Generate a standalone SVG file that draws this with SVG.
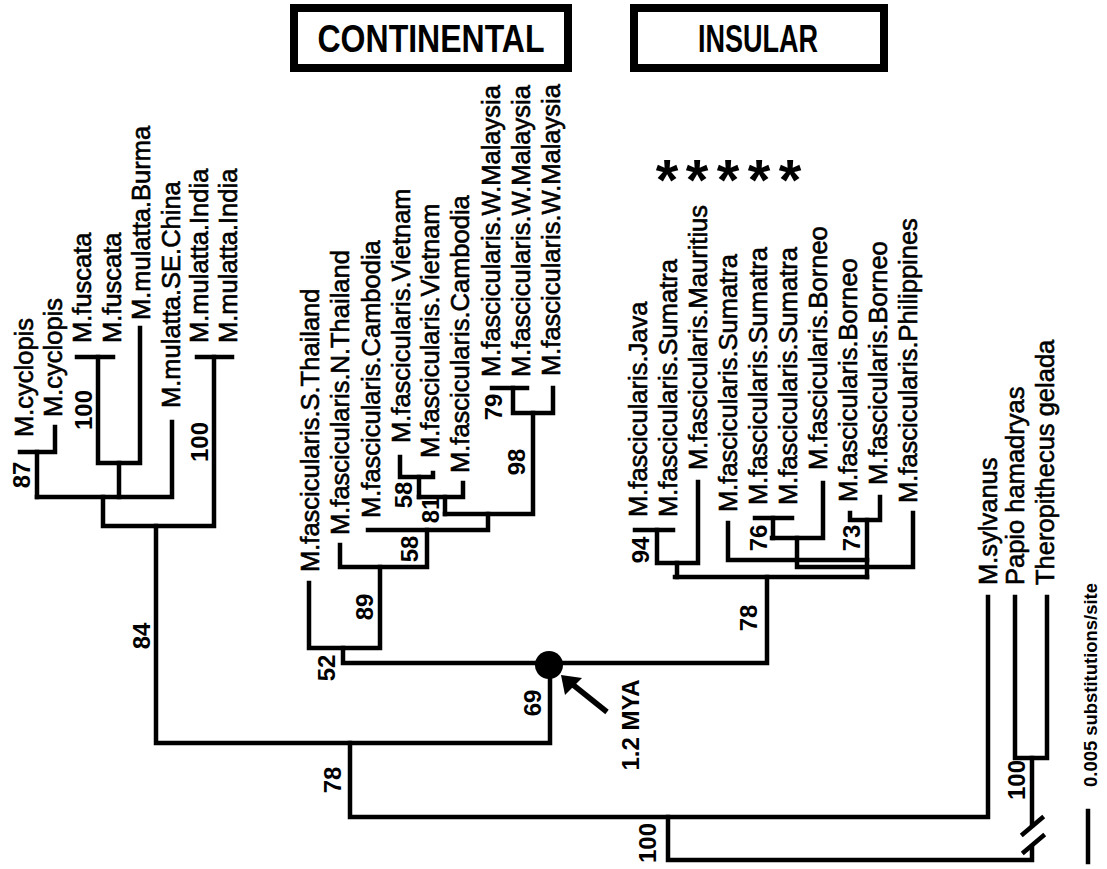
<svg xmlns="http://www.w3.org/2000/svg" width="1107" height="869" viewBox="0 0 1107 869">
<style>
.ln{fill:none;stroke:#000;stroke-width:4.5;stroke-linecap:square;stroke-linejoin:miter}
.tip{font-family:"Liberation Sans",Arial,sans-serif;font-size:25.5px;fill:#000;stroke:#000;stroke-width:0.6;dominant-baseline:central}
.bs{font-family:"Liberation Sans",Arial,sans-serif;font-size:24px;font-weight:bold;fill:#000;text-anchor:middle;dominant-baseline:central}
.hdr{font-family:"Liberation Sans",Arial,sans-serif;font-size:38px;font-weight:bold;fill:#000;text-anchor:middle}
.box{fill:#fff;stroke:#000;stroke-width:8}
.star{font-family:"Liberation Sans",Arial,sans-serif;font-size:58px;font-weight:bold;fill:#000;text-anchor:middle}
</style>
<rect width="1107" height="869" fill="#fff"/>

<g id="box-continental">
<rect class="box" x="294" y="8" width="274" height="60"/>
<text class="hdr" x="431" y="52" textLength="227" lengthAdjust="spacingAndGlyphs">CONTINENTAL</text>
</g>
<g id="box-insular">
<rect class="box" x="634" y="8" width="250" height="60"/>
<text class="hdr" x="758" y="52" textLength="120" lengthAdjust="spacingAndGlyphs">INSULAR</text>
</g>

<g id="connectors">
<path class="ln" d="M20,452 H55 V427"/>
<path class="ln" d="M37,452 V497"/>
<path class="ln" d="M77,357 H113"/>
<path class="ln" d="M98,357 V463 H140 V328"/>
<path class="ln" d="M119,463 V497"/>
<path class="ln" d="M37,497 H172 V422"/>
<path class="ln" d="M103,497 V526 H214 V357"/>
<path class="ln" d="M197,357 H232"/>
<path class="ln" d="M156,526 V743 H550 V667"/>
<path class="ln" d="M350,743 V817 H988 V597"/>
<path class="ln" d="M668,817 V860 H1032 V847"/>
<path class="ln" d="M1032,825 V758"/>
<path class="ln" d="M1015,597 V758 H1047 V597"/>
<path class="ln" d="M1023,834 L1042,818"/>
<path class="ln" d="M1024,852 L1043,836"/>
<path class="ln" d="M309,583 V648 H380 V567"/>
<path class="ln" d="M340,545 V567 H427 V530"/>
<path class="ln" d="M368,530 H488 V514"/>
<path class="ln" d="M343,648 V663 H767 V577"/>
<path class="ln" d="M445,514 H533 V413"/>
<path class="ln" d="M445,514 V497"/>
<path class="ln" d="M419,497 H463 V483"/>
<path class="ln" d="M419,497 V477"/>
<path class="ln" d="M400,457 V477 H433 V473"/>
<path class="ln" d="M492,388 H527"/>
<path class="ln" d="M513,388 V413 H553 V388"/>
<path class="ln" d="M635,530 H673"/>
<path class="ln" d="M657,530 V563 H698 V482"/>
<path class="ln" d="M677,563 V577"/>
<path class="ln" d="M675,577 H867"/>
<path class="ln" d="M728,523 V560 H867"/>
<path class="ln" d="M867,520 V577"/>
<path class="ln" d="M850,513 V520 H880 V497"/>
<path class="ln" d="M755,518 H792"/>
<path class="ln" d="M773,518 V538"/>
<path class="ln" d="M772,538 H823 V483"/>
<path class="ln" d="M797,538 V567 H913 V513"/>
<path class="ln" d="M1088,811 V862"/>
<path d="M607,712 L572,684" stroke="#000" stroke-width="5.5" fill="none"/>
<polygon points="561,675 582,678 565,695" fill="#000"/>
</g>

<g id="node-1.2MYA">
<circle cx="549" cy="665" r="14" fill="#000"/>
<text class="bs" transform="translate(630,725) rotate(-90)">1.2 MYA</text>
</g>

<g id="tips-left">
<text class="tip" transform="translate(23.5,437) rotate(-90)">M.cyclopis</text>
<text class="tip" transform="translate(52.5,417) rotate(-90)">M.cyclopis</text>
<text class="tip" transform="translate(82,343) rotate(-90)">M.fuscata</text>
<text class="tip" transform="translate(112,343) rotate(-90)">M.fuscata</text>
<text class="tip" transform="translate(141,320) rotate(-90)">M.mulatta.Burma</text>
<text class="tip" transform="translate(171,408) rotate(-90)">M.mulatta.SE.China</text>
<text class="tip" transform="translate(199,343) rotate(-90)">M.mulatta.India</text>
<text class="tip" transform="translate(228,343) rotate(-90)">M.mulatta.India</text>
</g>

<g id="tips-continental">
<text class="tip" transform="translate(310,572) rotate(-90)">M.fascicularis.S.Thailand</text>
<text class="tip" transform="translate(340,535) rotate(-90)">M.fascicularis.N.Thailand</text>
<text class="tip" transform="translate(371,518) rotate(-90)">M.fascicularis.Cambodia</text>
<text class="tip" transform="translate(401,443) rotate(-90)">M.fascicularis.Vietnam</text>
<text class="tip" transform="translate(430,458) rotate(-90)">M.fascicularis.Vietnam</text>
<text class="tip" transform="translate(460,473) rotate(-90)">M.fascicularis.Cambodia</text>
<text class="tip" transform="translate(491,377) rotate(-90)">M.fascicularis.W.Malaysia</text>
<text class="tip" transform="translate(521,377) rotate(-90)">M.fascicularis.W.Malaysia</text>
<text class="tip" transform="translate(551,376) rotate(-90)">M.fascicularis.W.Malaysia</text>
</g>

<g id="tips-insular">
<text class="tip" transform="translate(638,517) rotate(-90)">M.fascicularis.Java</text>
<text class="tip" transform="translate(668,517) rotate(-90)">M.fascicularis.Sumatra</text>
<text class="tip" transform="translate(698,470) rotate(-90)">M.fascicularis.Mauritius</text>
<text class="tip" transform="translate(728,512) rotate(-90)">M.fascicularis.Sumatra</text>
<text class="tip" transform="translate(758,505) rotate(-90)">M.fascicularis.Sumatra</text>
<text class="tip" transform="translate(788,505) rotate(-90)">M.fascicularis.Sumatra</text>
<text class="tip" transform="translate(818,470) rotate(-90)">M.fascicularis.Borneo</text>
<text class="tip" transform="translate(848,502) rotate(-90)">M.fascicularis.Borneo</text>
<text class="tip" transform="translate(878,485) rotate(-90)">M.fascicularis.Borneo</text>
<text class="tip" transform="translate(908,503) rotate(-90)">M.fascicularis.Philippines</text>
</g>

<g id="asterisks">
<text class="star" x="667" y="200">*</text>
<text class="star" x="697" y="200">*</text>
<text class="star" x="728" y="200">*</text>
<text class="star" x="759" y="200">*</text>
<text class="star" x="790" y="200">*</text>
</g>

<g id="tips-outgroup">
<text class="tip" transform="translate(988,585) rotate(-90)">M.sylvanus</text>
<text class="tip" transform="translate(1015,585) rotate(-90)">Papio hamadryas</text>
<text class="tip" transform="translate(1045,585) rotate(-90)">Theropithecus gelada</text>
</g>

<g id="bootstrap">
<text class="bs" transform="translate(21,475) rotate(-90)">87</text>
<text class="bs" transform="translate(83,410) rotate(-90)">100</text>
<text class="bs" transform="translate(199,442) rotate(-90)">100</text>
<text class="bs" transform="translate(141,636) rotate(-90)">84</text>
<text class="bs" transform="translate(326,668) rotate(-90)">52</text>
<text class="bs" transform="translate(364,607) rotate(-90)">89</text>
<text class="bs" transform="translate(409,549) rotate(-90)">58</text>
<text class="bs" transform="translate(430,510) rotate(-90)">81</text>
<text class="bs" transform="translate(403,495) rotate(-90)">58</text>
<text class="bs" transform="translate(516,462) rotate(-90)">98</text>
<text class="bs" transform="translate(493,407) rotate(-90)">79</text>
<text class="bs" transform="translate(532,703) rotate(-90)">69</text>
<text class="bs" transform="translate(332,780) rotate(-90)">78</text>
<text class="bs" transform="translate(647,843) rotate(-90)">100</text>
<text class="bs" transform="translate(640,550) rotate(-90)">94</text>
<text class="bs" transform="translate(758,538) rotate(-90)">76</text>
<text class="bs" transform="translate(851,538) rotate(-90)">73</text>
<text class="bs" transform="translate(748,618) rotate(-90)">78</text>
<text class="bs" transform="translate(1016,780) rotate(-90)">100</text>
</g>

<g id="scale">
<text transform="translate(1097,787) rotate(-90)" font-family="Liberation Sans, Arial, sans-serif" font-size="18" font-weight="bold" textLength="204" lengthAdjust="spacingAndGlyphs">0.005 substitutions/site</text>
</g>
</svg>
